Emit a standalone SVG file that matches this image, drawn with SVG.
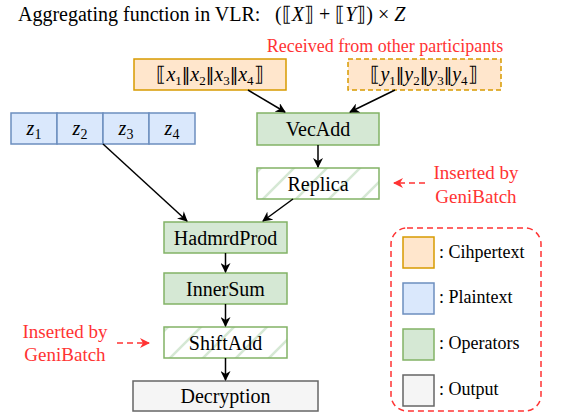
<svg xmlns="http://www.w3.org/2000/svg" width="567" height="415" viewBox="0 0 567 415">
<style>
.lbl{font-size:20px;text-anchor:middle}
.red{fill:#ff3333;font-size:19px;text-anchor:middle}
.leg{font-size:18px}
.ct{fill:#ffe6cc;stroke:#d79b00;stroke-width:1.5}
.pt{fill:#dae8fc;stroke:#6c8ebf;stroke-width:1.5}
.op{fill:#d5e8d4;stroke:#82b366;stroke-width:1.5}
.ins{fill:url(#hatch);stroke:#82b366;stroke-width:1.5}
.out{fill:#f5f5f5;stroke:#666666;stroke-width:1.5}
.it{font-style:italic}
.conn{stroke:#000;stroke-width:1.5;fill:none;marker-end:url(#ah)}
.dash{stroke:#ff3333;stroke-width:1.5;fill:none;stroke-dasharray:6 4;marker-end:url(#ahr)}
</style>
<defs>
<marker id="ah" viewBox="0 0 10 10" refX="9" refY="5" markerWidth="10" markerHeight="10" markerUnits="userSpaceOnUse" orient="auto">
<path d="M0,0 L10,5 L0,10 L3,5 z" fill="#000"/>
</marker>
<marker id="ahr" viewBox="0 0 10 10" refX="9" refY="5" markerWidth="10" markerHeight="10" markerUnits="userSpaceOnUse" orient="auto">
<path d="M0,0 L10,5 L0,10 L3,5 z" fill="#ff3333"/>
</marker>
<pattern id="hatch" patternUnits="userSpaceOnUse" width="33" height="33">
<rect width="33" height="33" fill="#ffffff"/>
<path d="M-4,37 L37,-4 M-4,4 L4,-4 M29,37 L37,29" stroke="#d5e8d4" stroke-width="2.5"/>
</pattern>
</defs>

<g id="title">
<text x="18" y="21" font-size="20" font-family="Liberation Serif">Aggregating function in VLR:</text>
<text x="275" y="21" font-size="20" font-family="Liberation Serif">(⟦<tspan font-style="italic">X</tspan>⟧ + ⟦<tspan font-style="italic">Y</tspan>⟧) × <tspan font-style="italic">Z</tspan></text>
</g>
<g id="received">
<text x="385" y="52" fill="#ff3333" font-size="18" text-anchor="middle" font-family="Liberation Serif">Received from other participants</text>
</g>

<g id="ctX">
<rect class="ct" x="134" y="59" width="152" height="31"/>
<text x="210" y="81" class="lbl" font-family="Liberation Serif">⟦<tspan font-style="italic">x</tspan><tspan font-size="13" dy="4">1</tspan><tspan font-family="DejaVu Sans" font-size="17" dy="-4">‖</tspan><tspan font-style="italic">x</tspan><tspan font-size="13" dy="4">2</tspan><tspan font-family="DejaVu Sans" font-size="17" dy="-4">‖</tspan><tspan font-style="italic">x</tspan><tspan font-size="13" dy="4">3</tspan><tspan font-family="DejaVu Sans" font-size="17" dy="-4">‖</tspan><tspan font-style="italic">x</tspan><tspan font-size="13" dy="4">4</tspan><tspan dy="-4">⟧</tspan></text>
</g>
<g id="ctY">
<rect class="ct" x="348" y="59" width="153" height="31" stroke-dasharray="5 3"/>
<text x="424" y="81" class="lbl" font-family="Liberation Serif">⟦<tspan font-style="italic">y</tspan><tspan font-size="13" dy="4">1</tspan><tspan font-family="DejaVu Sans" font-size="17" dy="-4">‖</tspan><tspan font-style="italic">y</tspan><tspan font-size="13" dy="4">2</tspan><tspan font-family="DejaVu Sans" font-size="17" dy="-4">‖</tspan><tspan font-style="italic">y</tspan><tspan font-size="13" dy="4">3</tspan><tspan font-family="DejaVu Sans" font-size="17" dy="-4">‖</tspan><tspan font-style="italic">y</tspan><tspan font-size="13" dy="4">4</tspan><tspan dy="-4">⟧</tspan></text>
</g>

<g id="ptZ">
<rect class="pt" x="11" y="113" width="46" height="31"/>
<rect class="pt" x="57" y="113" width="46" height="31"/>
<rect class="pt" x="103" y="113" width="46" height="31"/>
<rect class="pt" x="149" y="113" width="46" height="31"/>
<text x="34" y="135" class="lbl" font-family="Liberation Serif"><tspan font-style="italic">z</tspan><tspan font-size="14" dy="4">1</tspan></text>
<text x="80" y="135" class="lbl" font-family="Liberation Serif"><tspan font-style="italic">z</tspan><tspan font-size="14" dy="4">2</tspan></text>
<text x="126" y="135" class="lbl" font-family="Liberation Serif"><tspan font-style="italic">z</tspan><tspan font-size="14" dy="4">3</tspan></text>
<text x="172" y="135" class="lbl" font-family="Liberation Serif"><tspan font-style="italic">z</tspan><tspan font-size="14" dy="4">4</tspan></text>
</g>

<g id="vecadd">
<rect class="op" x="257" y="113" width="122" height="32"/>
<text x="318" y="136" class="lbl" font-family="Liberation Serif">VecAdd</text>
</g>
<g id="replica">
<rect class="ins" x="257" y="168" width="122" height="31"/>
<text x="318" y="191" class="lbl" font-family="Liberation Serif">Replica</text>
</g>
<g id="hadmrd">
<rect class="op" x="164" y="222" width="123" height="31"/>
<text x="225.5" y="245" class="lbl" font-family="Liberation Serif">HadmrdProd</text>
</g>
<g id="innersum">
<rect class="op" x="164" y="273" width="123" height="31"/>
<text x="225.5" y="296" class="lbl" font-family="Liberation Serif">InnerSum</text>
</g>
<g id="shiftadd">
<rect class="ins" x="164" y="327" width="123" height="31"/>
<text x="225.5" y="350" class="lbl" font-family="Liberation Serif">ShiftAdd</text>
</g>
<g id="decryption">
<rect class="out" x="133" y="381" width="185" height="30"/>
<text x="225.5" y="403" class="lbl" font-family="Liberation Serif">Decryption</text>
</g>

<g id="note-right">
<text x="476" y="179" class="red" font-family="Liberation Serif">Inserted by</text>
<text x="476" y="203" class="red" font-family="Liberation Serif">GeniBatch</text>
</g>
<g id="note-left">
<text x="65" y="338" class="red" font-family="Liberation Serif">Inserted by</text>
<text x="65" y="361" class="red" font-family="Liberation Serif">GeniBatch</text>
</g>

<g id="legend">
<rect x="391" y="228" width="150" height="183" rx="16" ry="16" fill="none" stroke="#ff3333" stroke-width="1.5" stroke-dasharray="6 4"/>
<rect class="ct" x="403" y="237" width="31" height="31"/>
<text x="439" y="258" class="leg" font-family="Liberation Serif">: Cihpertext</text>
<rect class="pt" x="403" y="283" width="31" height="31"/>
<text x="439" y="303" class="leg" font-family="Liberation Serif">: Plaintext</text>
<rect class="op" x="403" y="329" width="31" height="31"/>
<text x="439" y="349" class="leg" font-family="Liberation Serif">: Operators</text>
<rect class="out" x="403" y="375" width="31" height="31"/>
<text x="439" y="395" class="leg" font-family="Liberation Serif">: Output</text>
</g>

<g id="connectors">
<line class="conn" x1="248" y1="90" x2="285" y2="112"/>
<line class="conn" x1="395" y1="90" x2="350" y2="112"/>
<line class="conn" x1="318" y1="145" x2="318" y2="167"/>
<line class="conn" x1="293" y1="199" x2="263" y2="221"/>
<line class="conn" x1="103" y1="144" x2="187" y2="221"/>
<line class="conn" x1="225.5" y1="253" x2="225.5" y2="272"/>
<line class="conn" x1="225.5" y1="304" x2="225.5" y2="326"/>
<line class="conn" x1="225.5" y1="358" x2="225.5" y2="380"/>
<line class="dash" x1="425" y1="183" x2="394" y2="183"/>
<line class="dash" x1="117" y1="343" x2="149" y2="343"/>
</g>
</svg>
